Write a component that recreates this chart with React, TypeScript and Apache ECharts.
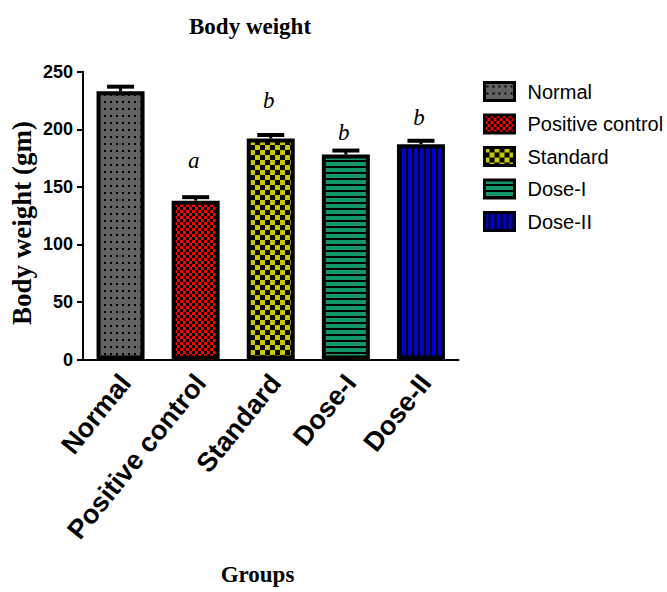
import React, { useEffect, useRef } from "react";
import * as echarts from "echarts";

const CATEGORIES = ["Normal", "Positive control", "Standard", "Dose-I", "Dose-II"];
const MEANS = [233, 138, 192, 178, 187];
const ERRORS = [4, 3, 3, 3.5, 3];
const LETTERS = ["", "a", "b", "b", "b"];
const LETTER_Y = [null, 173, 225, 197, 210];
const Y_MIN = 0;
const Y_MAX = 250;
const Y_STEP = 50;

type Kind = "dots" | "fineCheck" | "check" | "hstripe" | "vstripe";
const KINDS: Kind[] = ["dots", "fineCheck", "check", "hstripe", "vstripe"];
const COLORS = ["#626262", "#ff0000", "#c8c800", "#12966a", "#0000c8"];

function makePattern(kind: Kind, color: string) {
  let w = 6, h = 6;
  if (kind === "dots") { w = 6; h = 7; }
  if (kind === "check") { w = 10; h = 10; }
  const c = document.createElement("canvas");
  c.width = w; c.height = h;
  const ctx = c.getContext("2d")!;
  ctx.fillStyle = color;
  ctx.fillRect(0, 0, w, h);
  ctx.fillStyle = "#000";
  if (kind === "dots") ctx.fillRect(2, 3, 2, 2);
  if (kind === "fineCheck") { ctx.fillRect(3, 0, 3, 3); ctx.fillRect(0, 3, 3, 3); }
  if (kind === "check") { ctx.fillRect(5, 0, 5, 5); ctx.fillRect(0, 5, 5, 5); }
  if (kind === "hstripe") ctx.fillRect(0, 4, w, 2);
  if (kind === "vstripe") ctx.fillRect(4, 0, 2, h);
  return { image: c, repeat: "repeat", imageWidth: w, imageHeight: h };
}

export default function App() {
  const ref = useRef<HTMLDivElement>(null);
  useEffect(() => {
    document.body.style.margin = "0";
    const chart = echarts.init(ref.current!, null, { renderer: "svg" });
    const barSeries = CATEGORIES.map((name, i) => ({
      name,
      type: "bar",
      stack: "all",
      barWidth: 48,
      data: CATEGORIES.map((_, j) => (j === i ? MEANS[j] : "-")),
      itemStyle: {
        color: makePattern(KINDS[i], COLORS[i]),
        borderColor: "#000",
        borderWidth: 4,
      },
      emphasis: { disabled: true },
      z: 2,
    }));
    const errData = MEANS.map((m, i) => [i, m, ERRORS[i]]);
    const letterData: number[][] = [];
    const letterText: string[] = [];
    LETTERS.forEach((l, i) => {
      if (l && LETTER_Y[i] != null) {
        letterData.push([i, LETTER_Y[i] as number]);
        letterText.push(l);
      }
    });
    const option: any = {
      animation: false,
      title: {
        text: "Body weight",
        left: 184,
        top: 10,
        textStyle: { fontFamily: "Liberation Serif", fontWeight: "bold", fontSize: 23, color: "#000" },
      },
      legend: {
        orient: "vertical",
        left: 478,
        top: 76,
        itemWidth: 30,
        itemHeight: 18,
        itemGap: 11.5,
        icon: "rect",
        data: CATEGORIES,
        itemStyle: { borderColor: "#000", borderWidth: 3 },
        textStyle: { fontFamily: "Liberation Sans", fontSize: 20, color: "#000", padding: [0, 0, 0, 8] },
      },
      grid: { left: 83, right: 208.5, top: 71.7, bottom: 232.5, containLabel: false },
      xAxis: {
        type: "category",
        data: CATEGORIES,
        axisLine: { lineStyle: { color: "#000", width: 2 } },
        axisTick: { alignWithLabel: true, length: 6, lineStyle: { color: "#000", width: 2 } },
        axisLabel: {
          rotate: 51,
          interval: 0,
          margin: 3,
          verticalAlign: "top",
          padding: [0, 9, 0, 0],
          fontFamily: "Liberation Sans",
          fontWeight: "bold",
          fontSize: 27,
          color: "#000",
        },
      },
      yAxis: {
        type: "value",
        min: Y_MIN,
        max: Y_MAX,
        interval: Y_STEP,
        axisLine: { show: true, lineStyle: { color: "#000", width: 2 } },
        axisTick: { show: true, length: 6, lineStyle: { color: "#000", width: 2 } },
        splitLine: { show: false },
        axisLabel: {
          margin: 10,
          fontFamily: "Liberation Sans",
          fontWeight: "bold",
          fontSize: 18,
          color: "#000",
        },
      },
      graphic: [
        {
          type: "text",
          x: 22,
          y: 223,
          rotation: Math.PI / 2,
          style: {
            text: "Body weight (gm)",
            font: 'bold 27px "Liberation Serif"',
            fill: "#000",
            align: "center",
            verticalAlign: "middle",
            textAlign: "center",
            textVerticalAlign: "middle",
          },
        },
        {
          type: "text",
          x: 257.5,
          y: 574,
          style: {
            text: "Groups",
            font: 'bold 23px "Liberation Serif"',
            fill: "#000",
            align: "center",
            verticalAlign: "middle",
            textAlign: "center",
            textVerticalAlign: "middle",
          },
        },
      ],
      series: [
        ...barSeries,
        {
          type: "custom",
          name: "error",
          data: errData,
          z: 3,
          encode: { x: 0, y: 1 },
          renderItem: (params: any, api: any) => {
            const base = api.coord([api.value(0), api.value(1)]);
            const top = api.coord([api.value(0), api.value(1) + api.value(2)]);
            const half = 13.5;
            return {
              type: "group",
              children: [
                { type: "line", shape: { x1: base[0], y1: base[1], x2: top[0], y2: top[1] }, style: { stroke: "#000", lineWidth: 3 } },
                { type: "line", shape: { x1: top[0] - half, y1: top[1], x2: top[0] + half, y2: top[1] }, style: { stroke: "#000", lineWidth: 4 } },
              ],
            };
          },
        },
        {
          type: "custom",
          name: "letters",
          data: letterData,
          z: 4,
          encode: { x: 0, y: 1 },
          renderItem: (params: any, api: any) => {
            const p = api.coord([api.value(0), api.value(1)]);
            return {
              type: "text",
              x: p[0] - 2,
              y: p[1],
              style: {
                text: letterText[params.dataIndex],
                font: 'italic 23px "Liberation Serif"',
                fill: "#000",
                align: "center",
                verticalAlign: "middle",
                textAlign: "center",
                textVerticalAlign: "middle",
              },
            };
          },
        },
      ],
    };
    chart.setOption(option);
    return () => chart.dispose();
  }, []);
  return <div ref={ref} style={{ width: 667, height: 592 }} />;
}
